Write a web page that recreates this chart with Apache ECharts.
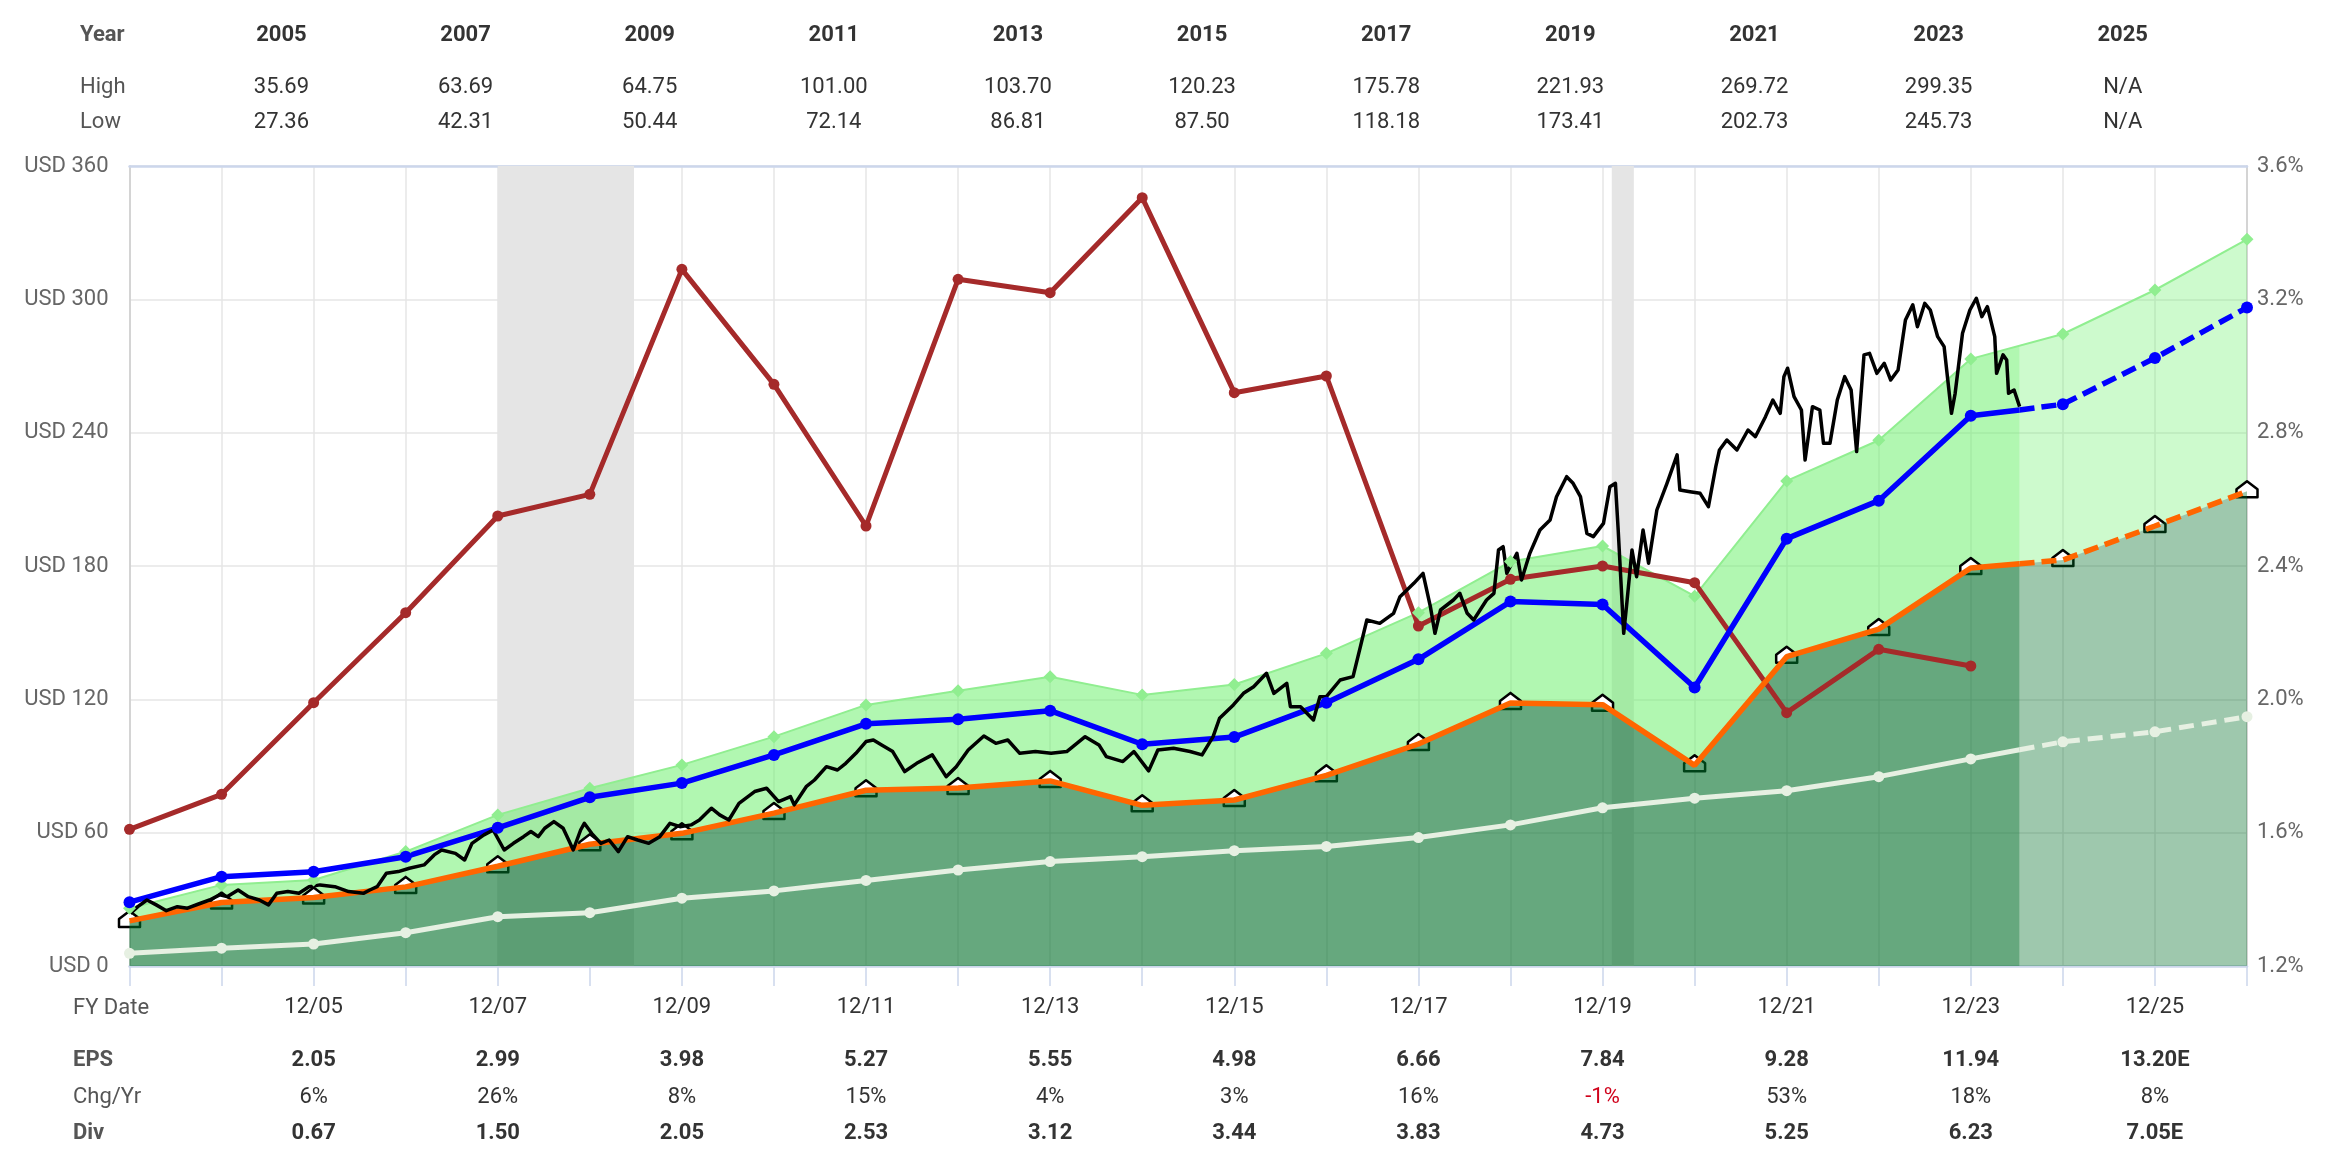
<!DOCTYPE html>
<html>
<head>
<meta charset="utf-8">
<script src="https://cdn.jsdelivr.net/npm/echarts@6/dist/echarts.min.js"></script>
<style>
  html, body { margin: 0; padding: 0; background: #fff; }
  #main { width: 2330px; height: 1156px; }
</style>
</head>
<body>
<div id="main"></div>
<script>
// fiscal year ends (12/03 .. 12/26), x value = year
const years = [2003, 2004, 2005, 2006, 2007, 2008, 2009, 2010, 2011, 2012, 2013, 2014,
  2015, 2016, 2017, 2018, 2019, 2020, 2021, 2022, 2023, 2024, 2025, 2026];
const nowX = 2023.53; // last price date, where estimates start

// earnings line (orange) and dark green area
const orangeVals = [20.3, 28.6, 30.8, 35.6, 44.9, 54.8, 59.7, 68.8, 79.1, 80.1, 83.3, 72.3,
  74.7, 85.8, 99.9, 118.4, 117.6, 90.3, 139.2, 151.6, 179.1, 182.7, 198.0, 213.6];
const orangeNow = 181.0;
// normal pe line (blue)
const blueVals = [28.7, 40.2, 42.4, 49.2, 62.2, 75.9, 82.3, 95.0, 109.0, 111.0, 114.9, 99.8,
  103.0, 118.5, 138.0, 164.0, 162.7, 125.3, 192.3, 209.4, 247.6, 252.8, 273.6, 296.3];
const blueNow = 250.2;
// upper edge of light green band
const upperVals = [26.0, 36.5, 38.7, 51.5, 68.0, 80.0, 90.5, 103.2, 117.5, 123.9, 130.2, 122.0,
  126.7, 140.7, 159.0, 182.0, 189.0, 166.4, 218.3, 236.6, 273.2, 284.4, 304.2, 327.0];
const upperNow = 279.0;
// dividend line (white)
const whiteVals = [5.7, 8.0, 9.9, 15.0, 22.2, 24.0, 30.5, 33.8, 38.5, 43.2, 47.0, 49.2,
  51.9, 53.8, 57.8, 63.5, 71.2, 75.5, 78.9, 85.2, 93.2, 100.9, 105.4, 112.2];
const whiteNow = 97.3;
// dividend yield % (right axis), 2003..2023
const yieldVals = [1.61, 1.715, 1.99, 2.26, 2.55, 2.615, 3.29, 2.945, 2.52, 3.26, 3.22, 3.505,
  2.92, 2.97, 2.22, 2.36, 2.40, 2.35, 1.96, 2.15, 2.10];

// monthly-ish price path
const priceT = [2003.01, 2003.09, 2003.19, 2003.29, 2003.40, 2003.52, 2003.63, 2003.75, 2003.87, 2003.98,
  2004.06, 2004.18, 2004.29, 2004.41, 2004.51, 2004.60, 2004.72, 2004.84, 2004.95,
  2005.07, 2005.23, 2005.38, 2005.54, 2005.61, 2005.69, 2005.79, 2005.92,
  2006.04, 2006.20, 2006.31, 2006.39, 2006.54, 2006.64, 2006.72, 2006.85, 2006.95,
  2007.01, 2007.07, 2007.17, 2007.28, 2007.36, 2007.44, 2007.51, 2007.61, 2007.71, 2007.77, 2007.82, 2007.90, 2007.94,
  2008.02, 2008.12, 2008.21, 2008.31, 2008.41, 2008.52, 2008.64, 2008.76, 2008.87, 2008.98,
  2009.10, 2009.19, 2009.32, 2009.41, 2009.51, 2009.62, 2009.79, 2009.92,
  2010.05, 2010.18, 2010.22, 2010.35, 2010.44, 2010.57, 2010.69, 2010.78, 2010.89,
  2011.00, 2011.08, 2011.17, 2011.29, 2011.42, 2011.55, 2011.72, 2011.87, 2011.98,
  2012.11, 2012.28, 2012.41, 2012.54, 2012.67, 2012.84,
  2013.01, 2013.18, 2013.38, 2013.53, 2013.61, 2013.79, 2013.91,
  2014.07, 2014.17, 2014.34, 2014.52, 2014.65, 2014.77, 2014.84, 2014.99,
  2015.10, 2015.21, 2015.35, 2015.43, 2015.57, 2015.61, 2015.72, 2015.86, 2015.93,
  2016.00, 2016.15, 2016.29, 2016.37, 2016.44, 2016.58, 2016.73, 2016.80, 2016.95,
  2017.05, 2017.13, 2017.18, 2017.24, 2017.38, 2017.45, 2017.53, 2017.60, 2017.74, 2017.82, 2017.87, 2017.92, 2017.96,
  2018.07, 2018.12, 2018.21, 2018.32, 2018.43, 2018.50, 2018.61, 2018.68, 2018.76, 2018.83, 2018.90,
  2019.01, 2019.08, 2019.14, 2019.17, 2019.23, 2019.26, 2019.32, 2019.37, 2019.44, 2019.50, 2019.59, 2019.70, 2019.81, 2019.84, 2019.95,
  2020.06, 2020.15, 2020.23, 2020.27, 2020.35, 2020.46, 2020.58, 2020.66, 2020.77, 2020.85, 2020.93, 2020.97,
  2021.01, 2021.08, 2021.16, 2021.20, 2021.28, 2021.36, 2021.40, 2021.47, 2021.55, 2021.63, 2021.70, 2021.76, 2021.84, 2021.90, 2021.98,
  2022.06, 2022.13, 2022.21, 2022.29, 2022.37, 2022.42, 2022.50, 2022.56, 2022.64, 2022.71, 2022.75, 2022.79, 2022.83, 2022.91, 2022.99,
  2023.06, 2023.12, 2023.18, 2023.26, 2023.28, 2023.35, 2023.39, 2023.41, 2023.47, 2023.53];
const priceV = [23.7, 26.7, 29.7, 27.5, 24.9, 26.7, 26.0, 27.9, 29.7, 32.0,
  31.2, 34.2, 31.2, 29.7, 27.5, 32.7, 33.5, 32.7, 35.7,
  36.5, 35.7, 33.5, 32.7, 34.2, 35.7, 41.7, 42.5,
  44.0, 45.5, 50.0, 52.2, 50.7, 47.7, 55.2, 59.0, 61.2,
  56.7, 52.2, 55.2, 58.2, 60.5, 58.2, 62.0, 65.0, 62.0, 56.7, 52.2, 61.2, 64.2,
  59.7, 55.2, 56.7, 51.5, 58.2, 56.7, 55.2, 58.2, 64.2, 62.7,
  63.5, 65.7, 71.0, 68.0, 65.7, 73.2, 78.5, 80.0,
  74.0, 76.2, 72.5, 80.7, 83.7, 89.7, 88.2, 91.2, 95.7,
  101.0, 101.7, 99.5, 96.5, 87.5, 91.2, 95.0, 85.2, 89.7,
  97.2, 103.5, 100.2, 101.7, 95.7, 96.5,
  95.7, 96.5, 103.2, 99.5, 94.2, 92.0, 96.5,
  87.8, 97.2, 98.0, 96.5, 95.0, 103.2, 111.5, 117.5,
  122.7, 125.7, 131.7, 122.7, 127.2, 116.7, 116.7, 110.7, 121.2,
  121.2, 128.7, 130.2, 143.7, 155.7, 154.2, 158.7, 166.2, 172.2,
  176.7, 161.7, 149.7, 160.2, 164.7, 167.7, 158.7, 155.7, 164.7, 167.7, 187.2, 188.7, 176.7,
  185.7, 173.7, 185.7, 196.2, 200.7, 211.2, 220.2, 217.2, 211.2, 194.7, 193.2,
  199.2, 215.7, 217.2, 196.2, 149.7, 161.7, 187.2, 175.2, 196.2, 181.2, 205.2, 217.2, 230.0, 214.2, 213.4,
  212.7, 206.7, 224.7, 232.2, 236.7, 232.2, 241.2, 238.2, 247.2, 254.7, 248.7, 265.2,
  269.0, 256.2, 250.2, 227.7, 251.7, 250.2, 235.2, 235.2, 254.7, 265.2, 259.2, 231.5, 275.0, 275.7, 266.7,
  271.2, 263.7, 268.2, 290.7, 297.5, 287.7, 298.2, 295.2, 283.2, 278.7, 263.7, 248.7, 257.7, 284.7, 295.2,
  300.5, 292.2, 296.7, 283.2, 266.7, 275.0, 272.7, 257.7, 259.2, 251.7];

// recessions [start, end]
const recessions = [[2007.0, 2008.48], [2019.10, 2019.34]];

// table rows
const tableYears = [2005, 2007, 2009, 2011, 2013, 2015, 2017, 2019, 2021, 2023, 2025];
const highRow = ['35.69', '63.69', '64.75', '101.00', '103.70', '120.23', '175.78', '221.93', '269.72', '299.35', 'N/A'];
const lowRow = ['27.36', '42.31', '50.44', '72.14', '86.81', '87.50', '118.18', '173.41', '202.73', '245.73', 'N/A'];
const epsRow = ['2.05', '2.99', '3.98', '5.27', '5.55', '4.98', '6.66', '7.84', '9.28', '11.94', '13.20E'];
const chgRow = ['6%', '26%', '8%', '15%', '4%', '3%', '16%', '-1%', '53%', '18%', '8%'];
const divRow = ['0.67', '1.50', '2.05', '2.53', '3.12', '3.44', '3.83', '4.73', '5.25', '6.23', '7.05E'];

const FONT = 'Roboto';
const pair = (xs, ys) => ys.map((v, i) => [xs[i], v]);
const iNow = years.indexOf(2023);

// history part (up to now) and estimate part (from now)
function partPast(vals, nowVal) {
  const d = pair(years.slice(0, iNow + 1), vals.slice(0, iNow + 1));
  d.push({ value: [nowX, nowVal], symbol: 'none' });
  return d;
}
function partFuture(vals, nowVal) {
  const d = [{ value: [nowX, nowVal], symbol: 'none' }];
  return d.concat(pair(years.slice(iNow + 1), vals.slice(iNow + 1)));
}
const xsPast = years.slice(0, iNow + 1).concat([nowX]);
const xsFuture = [nowX].concat(years.slice(iNow + 1));
const upPast = upperVals.slice(0, iNow + 1).concat([upperNow]);
const upFuture = [upperNow].concat(upperVals.slice(iNow + 1));
const loPast = orangeVals.slice(0, iNow + 1).concat([orangeNow]);
const loFuture = [orangeNow].concat(orangeVals.slice(iNow + 1));

const chart = echarts.init(document.getElementById('main'));

function darkArea(data, color) {
  return {
    type: 'line', data: data, symbol: 'none', silent: true,
    lineStyle: { width: 0, opacity: 0 },
    areaStyle: { color: color, opacity: 1 }
  };
}

const option = {
  animation: false,
  grid: { left: 129.5, right: 83, top: 166, bottom: 190 },
  xAxis: [{
    type: 'value', min: 2003, max: 2026, interval: 1,
    axisLine: { lineStyle: { color: '#ccd6eb', width: 2.5 } },
    axisTick: { length: 20, lineStyle: { color: '#ccd6eb', width: 1.5 } },
    splitLine: { lineStyle: { color: '#e6e6e6', width: 1.5 } },
    axisLabel: {
      margin: 30, fontSize: 22, fontFamily: FONT, color: '#333',
      formatter: v => tableYears.includes(v) ? '12/' + String(v).slice(2) : ''
    }
  }, {
    type: 'value', min: 2003, max: 2026, position: 'top',
    axisLine: { show: true, lineStyle: { color: '#ccd6eb', width: 2.5 } },
    axisTick: { show: false }, axisLabel: { show: false }, splitLine: { show: false }
  }],
  yAxis: [{
    type: 'value', min: 0, max: 360, interval: 60,
    axisLine: { show: true, lineStyle: { color: '#cccccc', width: 1.5 } },
    axisTick: { show: false },
    splitLine: { lineStyle: { color: '#e6e6e6', width: 1.5 } },
    axisLabel: { margin: 21, fontSize: 22, fontFamily: FONT, color: '#666', formatter: 'USD {value}' }
  }, {
    type: 'value', min: 1.2, max: 3.6, interval: 0.4, position: 'right',
    axisLine: { show: true, lineStyle: { color: '#cccccc', width: 1.5 } },
    axisTick: { show: false },
    splitLine: { show: false },
    axisLabel: { margin: 10, fontSize: 22, fontFamily: FONT, color: '#666', formatter: v => v.toFixed(1) + '%' }
  }],
  series: [
    {
      type: 'line', data: [], silent: true,
      markArea: {
        silent: true,
        itemStyle: { color: '#e5e5e5' },
        data: recessions.map(r => [{ xAxis: r[0] }, { xAxis: r[1] }])
      }
    },
    // dark green area up to the orange line, history and estimates
    darkArea(partPast(orangeVals, orangeNow), 'rgba(0,110,40,0.6)'),
    darkArea(partFuture(orangeVals, orangeNow), 'rgba(0,110,40,0.38)'),
    // light green band between orange line and upper edge
    {
      type: 'custom', silent: true, clip: true,
      data: [[2010, 0], [2025, 0]],
      renderItem: function (params, api) {
        const past = params.dataIndex === 0;
        const xs = past ? xsPast : xsFuture;
        const up = past ? upPast : upFuture;
        const lo = past ? loPast : loFuture;
        const top = xs.map((x, i) => api.coord([x, up[i]]));
        const bottom = xs.map((x, i) => api.coord([x, lo[i]])).reverse();
        return {
          type: 'polygon',
          shape: { points: top.concat(bottom) },
          style: { fill: past ? 'rgba(100,240,100,0.5)' : 'rgba(100,240,100,0.32)' }
        };
      }
    },
    {
      type: 'line', data: pair(years, upperVals), symbol: 'diamond', symbolSize: 13, silent: true,
      lineStyle: { color: '#90ee90', width: 2 }, itemStyle: { color: '#90ee90' }
    },
    {
      type: 'line', data: partPast(whiteVals, whiteNow), symbol: 'circle', symbolSize: 11,
      lineStyle: { color: '#e6f0e2', width: 5 }, itemStyle: { color: '#e6f0e2' }
    },
    {
      type: 'line', data: partFuture(whiteVals, whiteNow), symbol: 'circle', symbolSize: 11,
      lineStyle: { color: '#e6f0e2', width: 5, type: [15, 8] }, itemStyle: { color: '#e6f0e2' }
    },
    {
      type: 'line', yAxisIndex: 1, data: pair(years, yieldVals), symbol: 'circle', symbolSize: 11,
      lineStyle: { color: '#a52a2a', width: 5 }, itemStyle: { color: '#a52a2a' }
    },
    {
      type: 'line', data: partPast(orangeVals, orangeNow), symbol: 'none',
      lineStyle: { color: '#ff6600', width: 5.5 }
    },
    {
      type: 'line', data: partFuture(orangeVals, orangeNow), symbol: 'none',
      lineStyle: { color: '#ff6600', width: 5.5, type: [15, 7] }
    },
    {
      type: 'line', data: partPast(blueVals, blueNow), symbol: 'circle', symbolSize: 12,
      lineStyle: { color: '#0000ff', width: 5.5 }, itemStyle: { color: '#0000ff' }
    },
    {
      type: 'line', data: partFuture(blueVals, blueNow), symbol: 'circle', symbolSize: 12,
      lineStyle: { color: '#0000ff', width: 5.5, type: [15, 7] }, itemStyle: { color: '#0000ff' }
    },
    {
      type: 'line', data: pair(priceT, priceV), symbol: 'none',
      lineStyle: { color: '#000', width: 3.5, join: 'round' }
    },
    // house markers on the orange line
    {
      type: 'custom', clip: false, silent: true,
      data: pair(years, orangeVals),
      renderItem: function (params, api) {
        const p = api.coord([api.value(0), api.value(1)]);
        const x = p[0], y = p[1];
        return {
          type: 'polygon',
          shape: {
            points: [[x - 10.5, y + 6], [x - 10.5, y - 2], [x, y - 10], [x + 10.5, y - 2], [x + 10.5, y + 6]]
          },
          style: { fill: '#ffffff', stroke: '#000000', lineWidth: 2.5, lineJoin: 'round' }
        };
      }
    }
  ]
};

chart.setOption(option);

// table text around the plot
const px = v => chart.convertToPixel({ xAxisIndex: 0 }, v);
function txt(text, x, y, opts) {
  return {
    type: 'text', x: x, y: y, silent: true,
    style: Object.assign({
      text: text, fontSize: 22, fontFamily: FONT, fill: '#333',
      align: 'center', verticalAlign: 'middle'
    }, opts || {})
  };
}
const graphic = [];
const leftL = { align: 'left', fill: '#555' };
graphic.push(txt('Year', 80, 35, Object.assign({ fontWeight: 'bold' }, leftL)));
graphic.push(txt('High', 80, 87, leftL));
graphic.push(txt('Low', 80, 122, leftL));
graphic.push(txt('FY Date', 73, 1008, leftL));
graphic.push(txt('EPS', 73, 1060, Object.assign({ fontWeight: 'bold' }, leftL)));
graphic.push(txt('Chg/Yr', 73, 1097, leftL));
graphic.push(txt('Div', 73, 1133, Object.assign({ fontWeight: 'bold' }, leftL)));
tableYears.forEach((y, i) => {
  const xt = px(y - 0.35);
  graphic.push(txt(String(y), xt, 35, { fontWeight: 'bold' }));
  graphic.push(txt(highRow[i], xt, 87));
  graphic.push(txt(lowRow[i], xt, 122));
  const xb = px(y);
  graphic.push(txt(epsRow[i], xb, 1060, { fontWeight: 'bold' }));
  graphic.push(txt(chgRow[i], xb, 1097, { fill: chgRow[i].startsWith('-') ? '#d0021b' : '#333' }));
  graphic.push(txt(divRow[i], xb, 1133, { fontWeight: 'bold' }));
});
chart.setOption({ graphic: graphic });
</script>
</body>
</html>
